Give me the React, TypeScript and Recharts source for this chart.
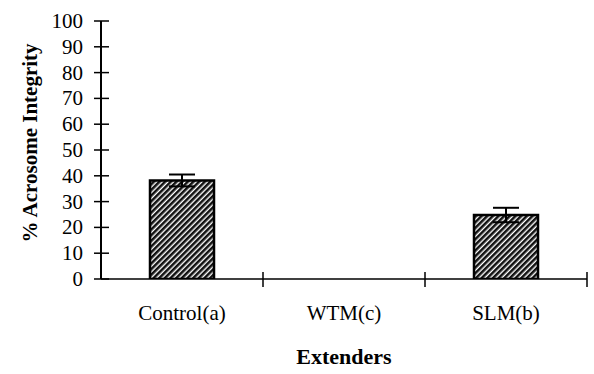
import React from "react";
import { BarChart, Bar, XAxis, YAxis, ErrorBar, Label } from "recharts";

const extenders = ["Control(a)", "WTM(c)", "SLM(b)"];
const integrity = [38.2, 0, 24.8];
const integritySe = [2.3, 1.0, 2.8];
const yTicks = [0, 10, 20, 30, 40, 50, 60, 70, 80, 90, 100];

const data = extenders.map((name, i) => ({
  name,
  value: integrity[i],
  err: integritySe[i],
}));

const FONT = "'Liberation Serif', 'Times New Roman', serif";

// y ticks cross the axis line, label sits to the left
const YTick = (props: any) => {
  const { x, y, payload } = props;
  return (
    <g>
      <line x1={x - 7} x2={x + 8} y1={y} y2={y} stroke="#000" strokeWidth={1.5} />
      <text x={x - 18} y={y + 7} textAnchor="end" fontFamily={FONT} fontSize={21} fill="#000">
        {payload.value}
      </text>
    </g>
  );
};

// category label centred, divider tick at the right edge of each band
const XTick = (props: any) => {
  const { x, y, payload } = props;
  const half = payload.offset ?? 81;
  return (
    <g>
      <line x1={x + half} x2={x + half} y1={y - 7} y2={y + 8} stroke="#000" strokeWidth={1.5} />
      <text x={x} y={y + 41} textAnchor="middle" fontFamily={FONT} fontSize={21} fill="#000">
        {payload.value}
      </text>
    </g>
  );
};

export default function App() {
  return (
    <div style={{ position: "absolute", left: 0, top: 0, background: "#fff" }}>
      <BarChart
        width={594}
        height={374}
        data={data}
        margin={{ top: 21, right: 7, bottom: 0, left: 11 }}
        barSize={64}
      >
        <defs>
          <pattern
            id="hatch"
            patternUnits="userSpaceOnUse"
            width={4}
            height={4}
            patternTransform="rotate(45)"
          >
            <rect width={4} height={4} fill="#fff" />
            <line x1={1.3} y1={0} x2={1.3} y2={4} stroke="#111" strokeWidth={2.6} />
          </pattern>
        </defs>
        <XAxis
          dataKey="name"
          height={95}
          tickSize={0}
          tickMargin={0}
          tick={<XTick />}
          axisLine={{ stroke: "#000", strokeWidth: 1.5 }}
        >
          <Label
            value="Extenders"
            position="insideBottom"
            offset={10}
            style={{ fontFamily: FONT, fontSize: 22, fontWeight: "bold", fill: "#000" }}
          />
        </XAxis>
        <YAxis
          width={90}
          domain={[0, 100]}
          allowDataOverflow
          ticks={yTicks}
          interval={0}
          tickSize={0}
          tickMargin={0}
          tick={<YTick />}
          axisLine={{ stroke: "#000", strokeWidth: 2 }}
        >
          <Label
            content={({ viewBox }: any) => {
              const cx = viewBox.x + viewBox.width - 64;
              const cy = viewBox.y + viewBox.height / 2 - 7;
              return (
                <text
                  x={cx}
                  y={cy}
                  transform={`rotate(-90, ${cx}, ${cy})`}
                  textAnchor="middle"
                  fontFamily={FONT}
                  fontSize={21}
                  fontWeight="bold"
                  fill="#000"
                >
                  % Acrosome Integrity
                </text>
              );
            }}
          />
        </YAxis>
        <Bar dataKey="value" fill="url(#hatch)" stroke="#000" strokeWidth={2.5} isAnimationActive={false}>
          <ErrorBar dataKey="err" width={13} stroke="#000" strokeWidth={2} />
        </Bar>
      </BarChart>
    </div>
  );
}
